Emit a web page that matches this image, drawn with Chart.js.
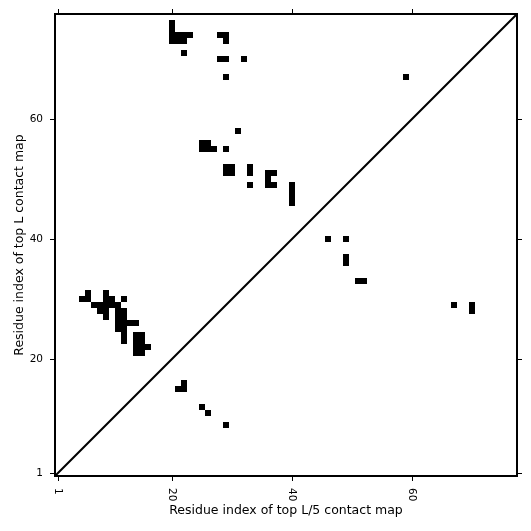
<!DOCTYPE html>
<html>
<head>
<meta charset="utf-8">
<script src="https://cdn.jsdelivr.net/npm/chart.js@4.4.0/dist/chart.umd.min.js"></script>
<style>
  html, body { margin: 0; padding: 0; background: #fff; }
  canvas { display: block; }
</style>
</head>
<body>
<canvas id="c" width="531" height="531"></canvas>
<script>
// ---- data ----
const nResidues = 77;
const tickValues = [1, 20, 40, 60];
const xTitle = 'Residue index of top L/5 contact map';
const yTitle = 'Residue index of top L contact map';

// contact cells: residue i (x) and residue j (y)
const contactX = [
  20, 20, 20, 21, 22, 23, 20, 21, 22, 22,
  28, 29, 29, 28, 29, 32, 29,
  59,
  31, 25, 26, 25, 26, 27, 29,
  29, 30, 29, 30, 33, 33, 33,
  36, 37, 36, 36, 37,
  40, 40, 40, 40,
  46, 49, 49, 49, 51, 52, 67, 70, 70,
  6, 9,
  5, 6, 9, 10, 12,
  7, 8, 9, 10, 11,
  8, 9, 11, 12,
  9, 11, 12,
  11, 12, 13, 14,
  11, 12,
  12, 14, 15,
  12, 14, 15,
  14, 15, 16,
  14, 15,
  22, 21, 22, 25, 26, 29
];
const contactY = [
  76, 75, 74, 74, 74, 74, 73, 73, 73, 71,
  74, 74, 73, 70, 70, 70, 67,
  67,
  58, 56, 56, 55, 55, 55, 55,
  52, 52, 51, 51, 52, 51, 49,
  51, 51, 50, 49, 49,
  49, 48, 47, 46,
  40, 40, 37, 36, 33, 33, 29, 29, 28,
  31, 31,
  30, 30, 30, 30, 30,
  29, 29, 29, 29, 29,
  28, 28, 28, 28,
  27, 27, 27,
  26, 26, 26, 26,
  25, 25,
  24, 24, 24,
  23, 23, 23,
  22, 22, 22,
  21, 21,
  16, 15, 15, 12, 11, 9
];

const lo = 0.5, hi = nResidues + 0.5;
const cells = contactX.map((x, k) => ({ x: x, y: contactY[k] }));
const diagonal = [{ x: lo, y: lo }, { x: hi, y: hi }];

const FONT = "'DejaVu Sans', sans-serif";
const TICK_SIZE = 10.5;
const setTicks = s => { s.ticks = tickValues.map(v => ({ value: v })); };
const gridOpts = { drawOnChartArea: false, drawTicks: true, tickLength: 5, color: '#000', lineWidth: 1 };
const borderOpts = { display: true, color: '#000', width: 2 };

const cellRadius = ctx => {
  const s = ctx.chart.scales.x;
  const w = Math.abs(s.getPixelForValue(1) - s.getPixelForValue(0));
  return w / Math.SQRT2;
};

const rotatedXLabels = {
  id: 'rotatedXLabels',
  afterDraw(chart) {
    const s = chart.scales.x;
    const ctx = chart.ctx;
    ctx.save();
    ctx.font = TICK_SIZE + "px " + FONT;
    ctx.fillStyle = '#000';
    ctx.textAlign = 'left';
    ctx.textBaseline = 'middle';
    s.ticks.forEach(t => {
      const px = s.getPixelForValue(t.value);
      ctx.save();
      ctx.translate(px, s.top + 12);
      ctx.rotate(Math.PI / 2);
      ctx.fillText(String(t.value), 0, 0);
      ctx.restore();
    });
    ctx.restore();
  }
};

new Chart(document.getElementById('c'), {
  type: 'scatter',
  data: {
    datasets: [
      {
        label: 'contacts',
        data: cells,
        pointStyle: 'rect',
        radius: cellRadius,
        hoverRadius: cellRadius,
        backgroundColor: '#000',
        borderWidth: 0,
        order: 2
      },
      {
        type: 'line',
        label: 'diagonal',
        data: diagonal,
        borderColor: '#000',
        borderWidth: 2,
        pointRadius: 0,
        fill: false,
        order: 1
      }
    ]
  },
  options: {
    responsive: false,
    animation: false,
    devicePixelRatio: 1,
    layout: { padding: 0 },
    plugins: { legend: { display: false }, tooltip: { enabled: false } },
    scales: {
      x: {
        type: 'linear', position: 'bottom', min: lo, max: hi,
        afterBuildTicks: setTicks,
        afterFit: s => { s.height = 55; },
        ticks: { display: false },
        grid: gridOpts, border: borderOpts,
        title: { display: true, text: xTitle, color: '#000', font: { family: FONT, size: 12.5 }, padding: { top: 0, bottom: 13 } }
      },
      y: {
        type: 'linear', position: 'left', min: lo, max: hi,
        afterBuildTicks: setTicks,
        afterFit: s => { s.width = 55; },
        ticks: { display: true, color: '#000', font: { family: FONT, size: TICK_SIZE }, padding: 7 },
        grid: gridOpts, border: borderOpts,
        title: { display: true, text: yTitle, color: '#000', font: { family: FONT, size: 12.5 }, padding: { top: 12.5, bottom: 0 } }
      },
      x2: {
        type: 'linear', position: 'top', min: lo, max: hi,
        afterBuildTicks: setTicks,
        afterFit: s => { s.height = 14; },
        ticks: { display: false },
        grid: gridOpts, border: borderOpts
      },
      y2: {
        type: 'linear', position: 'right', min: lo, max: hi,
        afterBuildTicks: setTicks,
        afterFit: s => { s.width = 14; },
        ticks: { display: false },
        grid: gridOpts, border: borderOpts
      }
    }
  },
  plugins: [rotatedXLabels]
});
</script>
</body>
</html>
